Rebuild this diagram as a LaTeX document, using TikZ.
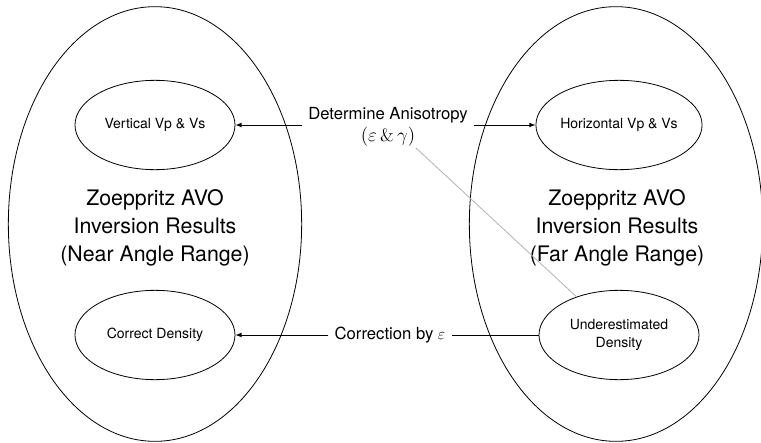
\documentclass[tikz,border=0pt]{standalone}
\usepackage{fontspec}
\setmainfont{TeX Gyre Heros}
\usetikzlibrary{shapes.geometric}
\newcommand{\serifamp}{\mbox{\fontfamily{lmr}\selectfont\&}}
\tikzset{
  anglerange/.style={draw,ellipse,line width=0.6pt,minimum width=220pt,minimum height=326pt,inner sep=0pt},
  result/.style={draw,ellipse,line width=0.6pt,minimum width=120pt,minimum height=67pt,inner sep=0pt,
    align=center,font=\fontsize{10.5}{13}\selectfont},
  rangetext/.style={align=center,font=\fontsize{16}{21}\selectfont},
  linktext/.style={align=center,inner sep=4.5pt,font=\fontsize{12.5}{16.5}\selectfont},
}
\begin{document}
\begin{tikzpicture}[x=0.75pt,y=-0.75pt,line width=0.6pt]
            \useasboundingbox (0,0) rectangle (761,443);
            % two angle ranges
            \node[anglerange] (near) at (155,224) {};
            \node[rangetext] (near label) at (155,228)
                {Zoeppritz AVO\\Inversion Results\\(Near Angle Range)};
            \node[anglerange] (far) at (616,224) {};
            \node[rangetext] (far label) at (617,228)
                {Zoeppritz AVO\\Inversion Results\\(Far Angle Range)};
            % results
            \node[result] (vert) at (155,125) {Vertical Vp \& Vs};
            \node[result] (horiz) at (619,125) {Horizontal Vp \& Vs};
            \node[result] (correct) at (155,335) {Correct Density};
            \node[result] (under) at (619,335) {Underestimated\\Density};
            % links
            \node[linktext] (aniso) at (388,127)
                {Determine Anisotropy\\{\fontsize{13.5}{16.5}\selectfont$(\varepsilon\,\serifamp\,\gamma)$}};
            \node[linktext] (corr) at (390,335) {Correction by $\varepsilon$};
            \coordinate (gamma end) at (416,148);
            \draw[-latex] (aniso.west |- vert) -- (vert);
            \draw[-latex] (aniso.east |- horiz) -- (horiz);
            \draw (under) -- (corr);
            \draw[-latex] (corr) -- (correct);
            \draw[gray!60] (under.138) -- (gamma end);
\end{tikzpicture}
\end{document}
